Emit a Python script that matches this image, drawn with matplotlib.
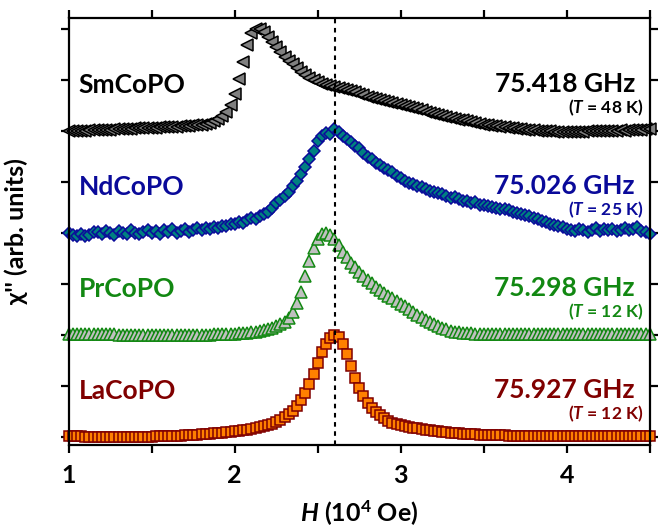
import numpy as np
import matplotlib
matplotlib.use("Agg")
import matplotlib.pyplot as plt

plt.rcParams['font.family'] = ['Lato', 'DejaVu Sans']
plt.rcParams['font.weight'] = 'bold'
plt.rcParams['mathtext.fontset'] = 'custom'
plt.rcParams['mathtext.rm'] = 'Lato:bold'
plt.rcParams['mathtext.it'] = 'Lato:bold:italic'
plt.rcParams['mathtext.bf'] = 'Lato:bold'

# field sampling, 10^4 Oe
field = np.linspace(1.0, 4.5, 141)

la_copo = [
    0.02, 0.02, 0.01, 0.01, 0.00, 0.00, -0.01, -0.01, -0.01, -0.01,
    -0.01, -0.01, -0.01, -0.01, 0.00, 0.00, 0.00, 0.00, 0.00, 0.00,
    0.00, 0.01, 0.01, 0.01, 0.01, 0.02, 0.02, 0.02, 0.03, 0.03,
    0.04, 0.04, 0.05, 0.05, 0.06, 0.07, 0.08, 0.08, 0.09, 0.10,
    0.11, 0.12, 0.13, 0.14, 0.15, 0.17, 0.19, 0.21, 0.23, 0.26,
    0.30, 0.34, 0.38, 0.44, 0.51, 0.60, 0.72, 0.86, 1.03, 1.24,
    1.45, 1.66, 1.82, 1.94, 2.00, 1.95, 1.82, 1.62, 1.40, 1.15,
    0.96, 0.80, 0.67, 0.56, 0.48, 0.42, 0.37, 0.32, 0.28, 0.25,
    0.23, 0.21, 0.19, 0.18, 0.17, 0.15, 0.14, 0.13, 0.12, 0.11,
    0.10, 0.09, 0.08, 0.08, 0.07, 0.06, 0.06, 0.05, 0.05, 0.04,
    0.04, 0.04, 0.03, 0.03, 0.03, 0.03, 0.02, 0.02, 0.02, 0.02,
    0.02, 0.02, 0.01, 0.01, 0.01, 0.01, 0.01, 0.01, 0.01, 0.01,
    0.01, 0.01, 0.01, 0.01, 0.01, 0.01, 0.01, 0.01, 0.01, 0.01,
    0.01, 0.01, 0.01, 0.01, 0.01, 0.01, 0.01, 0.01, 0.01, 0.01,
    0.01,
]

pr_copo = [
    0.01, 0.01, 0.01, 0.01, 0.01, 0.01, 0.01, 0.01, 0.01, 0.01,
    0.01, 0.01, 0.00, 0.00, 0.00, 0.00, 0.00, 0.00, 0.00, 0.00,
    0.00, 0.00, 0.00, 0.00, 0.00, 0.00, 0.00, 0.00, 0.00, 0.00,
    0.00, 0.00, 0.00, 0.00, 0.00, 0.01, 0.01, 0.01, 0.01, 0.02,
    0.02, 0.03, 0.03, 0.04, 0.05, 0.06, 0.08, 0.09, 0.11, 0.14,
    0.17, 0.21, 0.26, 0.33, 0.45, 0.62, 0.85, 1.15, 1.45, 1.70,
    1.88, 1.98, 2.00, 1.96, 1.88, 1.76, 1.63, 1.52, 1.42, 1.33,
    1.24, 1.16, 1.08, 1.01, 0.95, 0.89, 0.83, 0.77, 0.72, 0.67,
    0.61, 0.56, 0.51, 0.46, 0.40, 0.35, 0.30, 0.26, 0.21, 0.17,
    0.14, 0.11, 0.08, 0.06, 0.05, 0.04, 0.03, 0.03, 0.02, 0.02,
    0.02, 0.02, 0.01, 0.01, 0.01, 0.01, 0.01, 0.01, 0.01, 0.01,
    0.01, 0.01, 0.01, 0.01, 0.01, 0.01, 0.01, 0.01, 0.01, 0.01,
    0.01, 0.01, 0.01, 0.01, 0.01, 0.01, 0.01, 0.01, 0.01, 0.01,
    0.01, 0.01, 0.01, 0.01, 0.01, 0.01, 0.01, 0.01, 0.01, 0.01,
    0.01,
]

nd_copo = [
    0.00, -0.03, -0.05, -0.02, -0.06, -0.03, 0.02, 0.03, -0.01, 0.04,
    0.01, -0.03, 0.04, 0.00, -0.02, 0.05, 0.01, -0.02, 0.03, 0.06,
    0.00, 0.04, -0.01, 0.05, 0.02, 0.07, 0.01, 0.04, 0.08, 0.03,
    0.06, 0.10, 0.05, 0.09, 0.07, 0.12, 0.10, 0.14, 0.13, 0.17,
    0.18, 0.22, 0.20, 0.26, 0.29, 0.27, 0.33, 0.38, 0.42, 0.50,
    0.58, 0.64, 0.72, 0.80, 0.92, 1.02, 1.15, 1.30, 1.45, 1.62,
    1.80, 1.90, 1.96, 1.94, 2.04, 1.98, 1.90, 1.84, 1.79, 1.70,
    1.66, 1.58, 1.50, 1.46, 1.38, 1.33, 1.28, 1.24, 1.20, 1.12,
    1.08, 1.03, 0.98, 0.96, 0.92, 0.90, 0.87, 0.83, 0.80, 0.78,
    0.76, 0.72, 0.69, 0.70, 0.66, 0.63, 0.62, 0.59, 0.60, 0.56,
    0.55, 0.53, 0.52, 0.50, 0.47, 0.48, 0.45, 0.42, 0.40, 0.38,
    0.35, 0.33, 0.30, 0.28, 0.24, 0.22, 0.18, 0.16, 0.13, 0.12,
    0.08, 0.06, 0.04, 0.07, 0.05, 0.03, 0.06, 0.09, 0.04, 0.07,
    0.05, 0.08, 0.04, 0.06, 0.10, 0.05, 0.07, 0.11, 0.04, 0.02,
    -0.02,
]

sm_copo = [
    0.00, 0.00, 0.01, 0.01, 0.01, 0.02, 0.02, 0.02, 0.03, 0.03,
    0.03, 0.04, 0.04, 0.05, 0.05, 0.05, 0.06, 0.06, 0.06, 0.07,
    0.07, 0.07, 0.08, 0.08, 0.08, 0.09, 0.09, 0.10, 0.10, 0.11,
    0.12, 0.12, 0.13, 0.14, 0.16, 0.19, 0.23, 0.29, 0.38, 0.52,
    0.72, 1.02, 1.36, 1.70, 1.92, 2.00, 2.01, 1.94, 1.85, 1.75,
    1.65, 1.55, 1.46, 1.38, 1.31, 1.24, 1.17, 1.11, 1.05, 1.00,
    0.96, 0.93, 0.90, 0.88, 0.86, 0.84, 0.82, 0.80, 0.78, 0.76,
    0.73, 0.71, 0.68, 0.66, 0.63, 0.61, 0.59, 0.57, 0.55, 0.53,
    0.51, 0.49, 0.47, 0.45, 0.43, 0.41, 0.38, 0.36, 0.34, 0.32,
    0.30, 0.28, 0.26, 0.24, 0.22, 0.21, 0.19, 0.17, 0.16, 0.14,
    0.13, 0.12, 0.11, 0.10, 0.09, 0.08, 0.07, 0.06, 0.05, 0.04,
    0.03, 0.02, 0.02, 0.01, 0.01, 0.00, 0.00, -0.01, -0.01, -0.02,
    -0.02, -0.02, -0.01, -0.01, -0.01, 0.00, 0.00, 0.00, 0.00, 0.00,
    0.01, 0.01, 0.01, 0.02, 0.01, 0.02, 0.02, 0.03, 0.03, 0.04,
    0.05,
]

samples = ["LaCoPO", "PrCoPO", "NdCoPO", "SmCoPO"]
offsets = [0, 2, 4, 6]
frequencies = ["75.927 GHz", "75.298 GHz", "75.026 GHz", "75.418 GHz"]
temperatures = ["12 K", "12 K", "25 K", "48 K"]
curves = [la_copo, pr_copo, nd_copo, sm_copo]

# (text colour, marker, face, size)
styles = [
    ("#800000", "s", "#ff8000", 6.5),
    ("#128812", "^", "#c0c0c0", 8.5),
    ("#0a0a9a", "D", "#008080", 6.5),
    ("#000000", "<", "#808080", 8.0),
]

fig = plt.figure(figsize=(6.61, 5.31), dpi=100)
ax = fig.add_axes([0.104, 0.162, 0.879, 0.804])

for name, off, freq, temp, vals, (col, mk, face, ms) in zip(
        samples, offsets, frequencies, temperatures, curves, styles):
    ax.plot(field, np.array(vals) + off, linestyle='none', marker=mk,
            markersize=ms, markerfacecolor=face, markeredgecolor=col,
            markeredgewidth=1.1, clip_on=False)
    ax.text(1.06, off + 0.9, name, color=col, fontsize=19,
            fontweight='bold', ha='left', va='center')
    ax.text(4.41, off + 0.92, freq, color=col, fontsize=19,
            fontweight='bold', ha='right', va='center')
    ax.text(4.46, off + 0.45, r"($\mathit{T}$ = " + temp + ")", color=col,
            fontsize=12.5, fontweight='bold', ha='right', va='center')

ax.axvline(2.605, color='black', linestyle=(0, (2.2, 2.2)), linewidth=1.5, zorder=5)

ax.set_xlim(1.0, 4.5)
ax.set_ylim(-0.16, 8.22)
ax.set_xticks([1, 2, 3, 4])
ax.set_xticks([1.5, 2.5, 3.5, 4.5], minor=True)
ax.set_yticks(range(0, 9))
ax.set_yticklabels([])

for s in ax.spines.values():
    s.set_linewidth(1.6)
ax.tick_params(which='both', direction='out', length=6, width=1.6,
               top=True, right=True, labelsize=18, pad=8)
for lbl in ax.get_xticklabels():
    lbl.set_fontweight('bold')

ax.set_xlabel(r"$\mathit{H}$ (10$^{4}$ Oe)", fontsize=18, fontweight='bold',
              labelpad=8)
ax.set_ylabel("\u03c7'' (arb. units)", fontsize=18, fontweight='bold',
              labelpad=15)

fig.savefig("out.png", dpi=100)
